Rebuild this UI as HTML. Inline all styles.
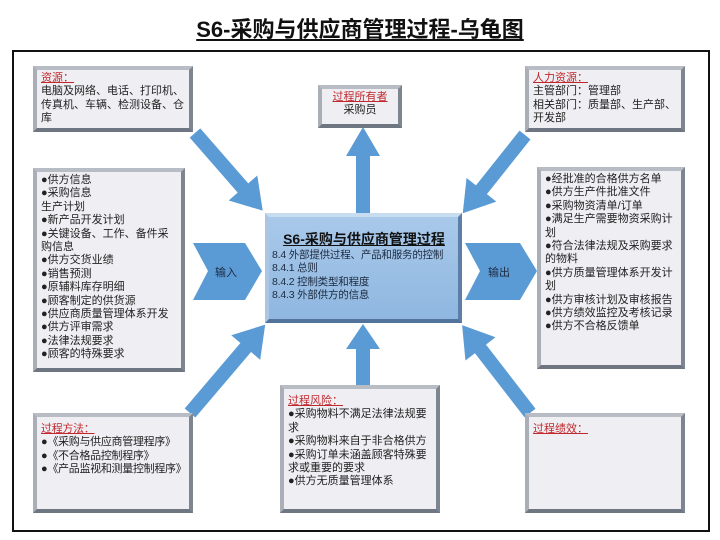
<!DOCTYPE html>
<html><head><meta charset="utf-8"><style>
body{margin:0;width:720px;height:540px;background:#fff;position:relative;overflow:hidden;font-family:"Liberation Sans","Noto Sans CJK SC",sans-serif;}
.t{position:absolute;left:0;width:720px;top:12px;text-align:center;font-size:22px;font-weight:bold;text-decoration:underline;color:#111;}
.frame{position:absolute;left:12px;top:50px;width:694px;height:478px;border:2px solid #111;}
.b{position:absolute;box-sizing:border-box;background:#efeff3;border:4px solid;border-color:#b8bcc4 #7d8591 #6e7682 #a9aeb7;font-size:11px;line-height:13.4px;color:#222;padding:2px 4px;}
.r{color:#c0282d;text-decoration:underline;}
.c{position:absolute;left:265px;top:213px;width:197px;height:110px;box-sizing:border-box;background:linear-gradient(#a9c9ea,#8fb7e0);border:4px solid;border-color:#c8dcf0 #5d7fa6 #52739a #aac6e4;font-size:10.5px;line-height:13.5px;color:#1c2a40;padding:16px 2px 0 3px;white-space:nowrap;letter-spacing:-0.2px;}
.c b{display:block;text-align:center;font-size:14px;text-decoration:underline;margin-bottom:2px;color:#111;letter-spacing:0;}
svg{position:absolute;left:0;top:0;}
.lab{position:absolute;font-size:11px;color:#1c2a40;}
</style></head><body>
<div class="t">S6-采购与供应商管理过程-乌龟图</div>
<div class="frame"></div>
<svg width="720" height="540">
<g fill="#5b9bd5">
<g transform="translate(195,133) rotate(48.9)"><polygon points="0,-7 73,-7 73,-19 103,0 73,19 73,7 0,7"/></g>
<g transform="translate(525,135) rotate(128.5)"><polygon points="0,-7 70,-7 70,-19 100,0 70,19 70,7 0,7"/></g>
<g transform="translate(363,213) rotate(-90)"><polygon points="0,-7 57,-7 57,-17 86,0 57,17 57,7 0,7"/></g>
<g transform="translate(190,413) rotate(-49.6)"><polygon points="0,-7 86,-7 86,-19 116,0 86,19 86,7 0,7"/></g>
<g transform="translate(530,413) rotate(-127.7)"><polygon points="0,-7 81,-7 81,-19 111,0 81,19 81,7 0,7"/></g>
<g transform="translate(363,385) rotate(-90)"><polygon points="0,-7 36,-7 36,-17 61,0 36,17 36,7 0,7"/></g>
<polygon points="193,243 245,243 262,271 245,300 193,300 208,271"/>
<polygon points="465,243 520,243 537,271 520,300 465,300 480,271"/>
</g>
</svg>
<div class="lab" style="left:215px;top:264px">输入</div>
<div class="lab" style="left:488px;top:264px">输出</div>
<div class="b" style="left:33px;top:66px;width:160px;height:66px"><span class="r">资源：</span><br>电脑及网络、电话、打印机、传真机、车辆、检测设备、仓库</div>
<div class="b" style="left:318px;top:85px;width:84px;height:43px;text-align:center"><span class="r">过程所有者</span><br>采购员</div>
<div class="b" style="left:525px;top:66px;width:160px;height:66px"><span class="r">人力资源：</span><br>主管部门：管理部<br>相关部门：质量部、生产部、开发部</div>
<div class="b" style="left:33px;top:168px;width:152px;height:204px">●供方信息<br>●采购信息<br>生产计划<br>●新产品开发计划<br>●关键设备、工作、备件采购信息<br>●供方交货业绩<br>●销售预测<br>●原辅料库存明细<br>●顾客制定的供货源<br>●供应商质量管理体系开发<br>●供方评审需求<br>●法律法规要求<br>●顾客的特殊要求</div>
<div class="b" style="left:537px;top:167px;width:148px;height:202px">●经批准的合格供方名单<br>●供方生产件批准文件<br>●采购物资清单/订单<br>●满足生产需要物资采购计划<br>●符合法律法规及采购要求的物料<br>●供方质量管理体系开发计划<br>●供方审核计划及审核报告<br>●供方绩效监控及考核记录<br>●供方不合格反馈单</div>
<div class="c"><b>S6-采购与供应商管理过程</b>8.4 外部提供过程、产品和服务的控制<br>8.4.1 总则<br>8.4.2 控制类型和程度<br>8.4.3 外部供方的信息</div>
<div class="b" style="left:33px;top:413px;width:160px;height:100px;padding-top:6px;white-space:nowrap;letter-spacing:-0.3px"><span class="r">过程方法：</span><br>●《采购与供应商管理程序》<br>●《不合格品控制程序》<br>●《产品监视和测量控制程序》</div>
<div class="b" style="left:280px;top:385px;width:160px;height:128px;padding-top:6px"><span class="r">过程风险：</span><br>●采购物料不满足法律法规要求<br>●采购物料来自于非合格供方<br>●采购订单未涵盖顾客特殊要求或重要的要求<br>●供方无质量管理体系</div>
<div class="b" style="left:525px;top:413px;width:160px;height:100px;padding-top:6px"><span class="r">过程绩效：</span></div>
</body></html>
